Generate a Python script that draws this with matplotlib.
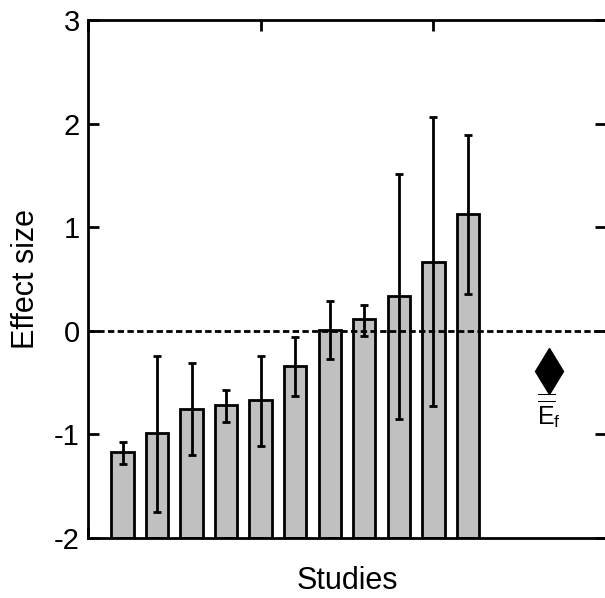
import numpy as np
import matplotlib
matplotlib.use('Agg')
import matplotlib.pyplot as plt

plt.rcParams['font.family'] = ['Liberation Sans', 'DejaVu Sans']
plt.rcParams['mathtext.fontset'] = 'custom'
plt.rcParams['mathtext.rm'] = 'Liberation Sans'
plt.rcParams['mathtext.it'] = 'Liberation Sans'
plt.rcParams['axes.unicode_minus'] = False

# effect size per study, with the ends of the error bars
studies = np.arange(1, 12)
effect = [-1.17, -0.99, -0.755, -0.72, -0.67, -0.335, 0.01, 0.11, 0.335, 0.665, 1.125]
upper = [-1.07, -0.245, -0.315, -0.57, -0.245, -0.06, 0.29, 0.25, 1.51, 2.06, 1.89]
lower = [-1.285, -1.745, -1.20, -0.885, -1.11, -0.63, -0.275, -0.05, -0.85, -0.73, 0.355]

# pooled estimate
pooled_x = 13.35
pooled_y = -0.39
pooled_label = r'$\overline{\overline{\mathrm{E}}}_{\mathrm{f}}$'

yticks = [-2, -1, 0, 1, 2, 3]
xticks = [0, 5, 10, 15]
ybase = -2

effect = np.array(effect)
yerr = np.array([effect - np.array(lower), np.array(upper) - effect])

fig = plt.figure(figsize=(6.05, 5.98), dpi=100)
ax = fig.add_axes([88/605, 1 - 538/598, (606 - 88)/605, (538 - 20)/598])
ax.set_axisbelow(True)

ax.bar(studies, effect - ybase, bottom=ybase, width=0.65, color='#c0c0c0',
       edgecolor='black', linewidth=2, zorder=2)
ax.errorbar(studies, effect, yerr=yerr, fmt='none', ecolor='black',
            elinewidth=2, capsize=3, capthick=2, zorder=3)

ax.axhline(0, color='black', lw=2, ls=(0, (2.3, 1.2)), zorder=4)

ax.plot([pooled_x], [pooled_y], marker='d', color='black', markersize=23,
        linestyle='none', zorder=5)
ax.text(pooled_x, pooled_y - 0.38, pooled_label, ha='center', va='center',
        fontsize=18)

ax.set_xlim(0, 15)
ax.set_ylim(-2, 3)
ax.set_xticks(xticks)
ax.set_xticklabels([])
ax.set_yticks(yticks)
ax.tick_params(direction='in', length=8, width=2, top=True, right=True,
               labelsize=21, pad=6)
for s in ax.spines.values():
    s.set_linewidth(2)

ax.set_xlabel('Studies', fontsize=22, labelpad=14)
ax.set_ylabel('Effect size', fontsize=22, labelpad=9)

fig.savefig('out.png', dpi=100)
